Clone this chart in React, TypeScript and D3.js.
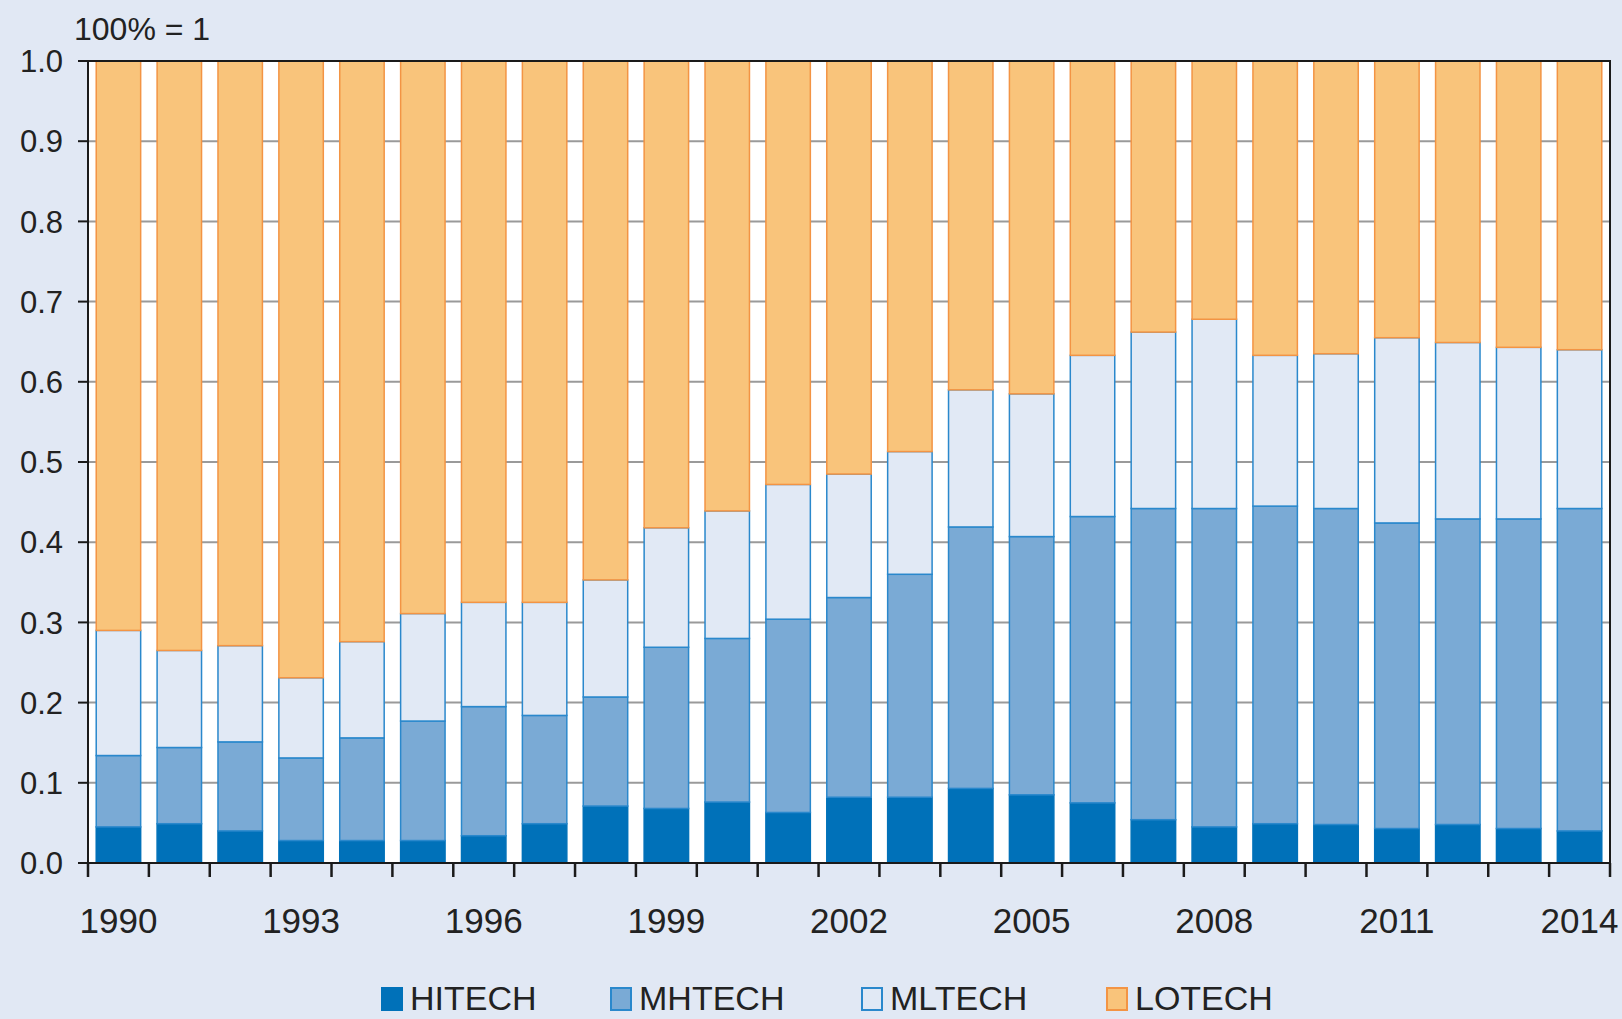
import * as d3 from 'd3'
import { FC } from 'react'

const YEARS = d3.range(1990, 2015).map(String)
const KEYS = ['HITECH', 'MHTECH', 'MLTECH', 'LOTECH']

const HITECH = [0.045, 0.049, 0.040, 0.028, 0.028, 0.028, 0.034, 0.049, 0.071, 0.068, 0.076, 0.063, 0.082, 0.082, 0.093, 0.085, 0.075, 0.054, 0.045, 0.049, 0.048, 0.043, 0.048, 0.043, 0.040]
const MHTECH = [0.089, 0.095, 0.111, 0.103, 0.128, 0.149, 0.161, 0.135, 0.136, 0.201, 0.204, 0.241, 0.249, 0.278, 0.326, 0.322, 0.357, 0.388, 0.397, 0.396, 0.394, 0.381, 0.381, 0.386, 0.402]
const MLTECH = [0.156, 0.121, 0.120, 0.100, 0.120, 0.134, 0.130, 0.141, 0.146, 0.149, 0.159, 0.168, 0.154, 0.153, 0.171, 0.178, 0.201, 0.220, 0.236, 0.188, 0.193, 0.231, 0.220, 0.214, 0.198]
const LOTECH = [0.710, 0.735, 0.729, 0.769, 0.724, 0.689, 0.675, 0.675, 0.647, 0.582, 0.561, 0.528, 0.515, 0.487, 0.410, 0.415, 0.367, 0.338, 0.322, 0.367, 0.365, 0.345, 0.351, 0.357, 0.360]

const Y_TICKS = [0, 0.1, 0.2, 0.3, 0.4, 0.5, 0.6, 0.7, 0.8, 0.9, 1.0]
const X_LABELS = ['1990', '1993', '1996', '1999', '2002', '2005', '2008', '2011', '2014']

const WIDTH = 1622
const HEIGHT = 1019
const PLOT = { left: 88, right: 1610, top: 61, bottom: 863 }
const FONT = '"Liberation Sans", Arial, sans-serif'

const FILLS: Record<string, string> = {
  HITECH: '#0071b9',
  MHTECH: '#7aaad5',
  MLTECH: '#e1e9f5',
  LOTECH: '#f9c47b',
}
const STROKES: Record<string, string> = {
  HITECH: '#0071b9',
  MHTECH: '#2a88cc',
  MLTECH: '#2a88cc',
  LOTECH: '#f39444',
}
// legend boxes, x positions
const LEGEND_X = [382, 611, 862, 1107]

const App: FC = () => {
  const rows = YEARS.map((year, i) => ({
    year,
    HITECH: HITECH[i],
    MHTECH: MHTECH[i],
    MLTECH: MLTECH[i],
    LOTECH: LOTECH[i],
  }))

  const series = d3.stack<any>().keys(KEYS)(rows)

  const xScale = d3
    .scaleBand()
    .domain(YEARS)
    .range([PLOT.left, PLOT.right])
    .paddingInner(0.27)
    .paddingOuter(0.135)

  const yScale = d3.scaleLinear().domain([0, 1]).range([PLOT.bottom, PLOT.top])

  const step = xScale.step()
  const boundaries = d3.range(YEARS.length + 1).map((i) => PLOT.left + i * step)

  return (
    <svg
      width={WIDTH}
      height={HEIGHT}
      style={{ position: 'absolute', left: 0, top: 0, display: 'block' }}
      fontFamily={FONT}
    >
      <rect x={0} y={0} width={WIDTH} height={HEIGHT} fill='#e1e8f4' />
      <rect
        x={PLOT.left}
        y={PLOT.top}
        width={PLOT.right - PLOT.left}
        height={PLOT.bottom - PLOT.top}
        fill='#ffffff'
      />

      {/* grid */}
      {Y_TICKS.slice(1, -1).map((t) => (
        <line
          key={t}
          x1={PLOT.left}
          x2={PLOT.right}
          y1={yScale(t)}
          y2={yScale(t)}
          stroke='#9a9a9a'
          strokeWidth={2}
        />
      ))}

      {/* bars */}
      {series.map((s) => (
        <g key={s.key}>
          {s.map((d: any) => (
            <rect
              key={d.data.year}
              x={xScale(d.data.year)}
              y={yScale(d[1])}
              width={xScale.bandwidth()}
              height={yScale(d[0]) - yScale(d[1])}
              fill={FILLS[s.key]}
              stroke={STROKES[s.key]}
              strokeWidth={1.5}
            />
          ))}
        </g>
      ))}

      {/* frame */}
      <rect
        x={PLOT.left}
        y={PLOT.top}
        width={PLOT.right - PLOT.left}
        height={PLOT.bottom - PLOT.top}
        fill='none'
        stroke='#1a1a1a'
        strokeWidth={2}
      />

      {/* y axis */}
      {Y_TICKS.map((t) => (
        <g key={t}>
          <line
            x1={PLOT.left - 10}
            x2={PLOT.left}
            y1={yScale(t)}
            y2={yScale(t)}
            stroke='#1a1a1a'
            strokeWidth={2}
          />
          <text
            x={PLOT.left - 25}
            y={yScale(t)}
            dy='0.36em'
            textAnchor='end'
            fontSize={31}
            fill='#222'
          >
            {t.toFixed(1)}
          </text>
        </g>
      ))}
      <text x={74} y={40} fontSize={32} fill='#222'>
        100% = 1
      </text>

      {/* x axis */}
      {boundaries.map((x, i) => (
        <line
          key={i}
          x1={x}
          x2={x}
          y1={PLOT.bottom}
          y2={PLOT.bottom + 14}
          stroke='#1a1a1a'
          strokeWidth={2.5}
        />
      ))}
      {X_LABELS.map((label) => (
        <text
          key={label}
          x={(xScale(label) as number) + xScale.bandwidth() / 2}
          y={933}
          textAnchor='middle'
          fontSize={35}
          fill='#222'
        >
          {label}
        </text>
      ))}

      {/* legend */}
      {KEYS.map((key, i) => (
        <g key={key}>
          <rect
            x={LEGEND_X[i]}
            y={988}
            width={20}
            height={22}
            fill={FILLS[key]}
            stroke={STROKES[key]}
            strokeWidth={2}
          />
          <text x={LEGEND_X[i] + 28} y={1010} fontSize={34} fill='#222'>
            {key}
          </text>
        </g>
      ))}
    </svg>
  )
}

export default App
